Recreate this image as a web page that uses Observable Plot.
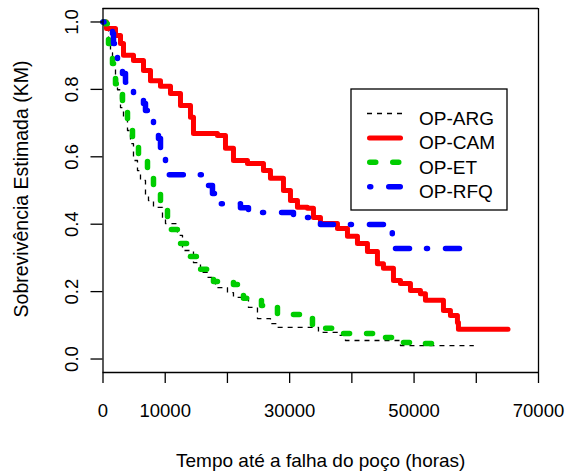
<!DOCTYPE html>
<html><head><meta charset="utf-8">
<script src="https://cdn.jsdelivr.net/npm/d3@7"></script>
<script src="https://cdn.jsdelivr.net/npm/@observablehq/plot@0.6"></script>
<style>body{margin:0;background:#fff} #chart{position:relative;width:568px;height:472px}</style>
</head><body><div id="chart"></div>
<script>
// ---- data ----
const groups = ["OP-ARG", "OP-CAM", "OP-ET", "OP-RFQ"];

const timeARG = [0, 402, 884, 1205, 1527, 2009, 2330, 2812, 3294, 3937, 4419, 4901, 5544, 6026, 6830, 7312, 8115, 9562, 10044, 11972, 12776, 14543, 15668, 16793, 18079, 20007, 20971, 23382, 24828, 26918, 28043, 34632, 37686, 38971, 47811, 59600];
const survARG = [1.0, 0.990, 0.937, 0.909, 0.871, 0.832, 0.799, 0.746, 0.717, 0.678, 0.639, 0.589, 0.559, 0.530, 0.485, 0.470, 0.450, 0.420, 0.402, 0.367, 0.322, 0.286, 0.257, 0.242, 0.212, 0.197, 0.183, 0.153, 0.120, 0.105, 0.094, 0.079, 0.070, 0.055, 0.040, 0.040];

const timeCAM = [0, 560, 2009, 2812, 3294, 4901, 6508, 7633, 9240, 10847, 12454, 14061, 14543, 18400, 19686, 20971, 23221, 25793, 26918, 29007, 30132, 31257, 32865, 33829, 34954, 37686, 39293, 40900, 42507, 44114, 45079, 46686, 47811, 49418, 51025, 51829, 53757, 54721, 55846, 56971, 57132, 65100];
const survCAM = [1.0, 0.981, 0.960, 0.936, 0.901, 0.886, 0.856, 0.826, 0.809, 0.788, 0.752, 0.717, 0.669, 0.663, 0.625, 0.589, 0.580, 0.559, 0.536, 0.500, 0.470, 0.450, 0.447, 0.420, 0.402, 0.387, 0.364, 0.343, 0.319, 0.283, 0.269, 0.233, 0.224, 0.203, 0.194, 0.174, 0.174, 0.144, 0.129, 0.108, 0.088, 0.088];

const timeET = [0, 402, 884, 1527, 2009, 3134, 3937, 4741, 5705, 7151, 8115, 9240, 10365, 11972, 13740, 15668, 17758, 20971, 22578, 25471, 28043, 33668, 36882, 43792, 47006, 50542, 54239, 55000];
const survET = [1.0, 0.995, 0.936, 0.877, 0.817, 0.752, 0.702, 0.642, 0.589, 0.545, 0.494, 0.444, 0.384, 0.343, 0.304, 0.266, 0.230, 0.221, 0.180, 0.159, 0.132, 0.091, 0.076, 0.064, 0.049, 0.046, 0.037, 0.037];

const timeRFQ = [0, 402, 1527, 1687, 2330, 3134, 3616, 4901, 6508, 6830, 8115, 8919, 9240, 10044, 10526, 16500, 17597, 19000, 22096, 23382, 30614, 33347, 34954, 46500, 58800];
const survRFQ = [1.0, 0.995, 0.966, 0.936, 0.886, 0.847, 0.821, 0.791, 0.758, 0.737, 0.699, 0.654, 0.619, 0.583, 0.547, 0.515, 0.491, 0.461, 0.449, 0.435, 0.420, 0.411, 0.399, 0.328, 0.328];

const xTicks = [0, 10000, 20000, 30000, 40000, 50000, 60000, 70000];
const xTickLabels = ["0", "10000", "", "30000", "", "50000", "", "70000"];
const yTicks = [0, 0.2, 0.4, 0.6, 0.8, 1.0];
const yTickLabels = ["0.0", "0.2", "0.4", "0.6", "0.8", "1.0"];
const xTitle = "Tempo até a falha do poço (horas)";
const yTitle = "Sobrevivência Estimada (KM)";

// ---- styles ----
const styles = {
  "OP-ARG": {stroke: "#000000", width: 1.3, dash: "5,5", cap: "butt"},
  "OP-CAM": {stroke: "#ff0000", width: 5, dash: null, cap: "round"},
  "OP-ET":  {stroke: "#00cd00", width: 5.5, dash: "6,17", cap: "round"},
  "OP-RFQ": {stroke: "#0000ff", width: 5.5, dash: "1,18,14,17", cap: "round"}
};

const series = {
  "OP-ARG": [timeARG, survARG],
  "OP-CAM": [timeCAM, survCAM],
  "OP-ET": [timeET, survET],
  "OP-RFQ": [timeRFQ, survRFQ]
};
const rows = groups.flatMap(g => series[g][0].map((t, i) => ({group: g, t, s: series[g][1][i]})));

const font = "'Liberation Sans', Arial, Helvetica, sans-serif";
const fs = 19;
const xDomain = [0, 70000];
const yDomain = [-0.04, 1.04];
const xLabelMap = new Map(xTicks.map((t, i) => [t, xTickLabels[i]]));

const plot = Plot.plot({
  width: 568, height: 472,
  marginLeft: 102.5, marginRight: 30, marginTop: 8, marginBottom: 100,
  style: {fontFamily: font, fontSize: fs + "px", background: "white", color: "black"},
  x: {domain: xDomain},
  y: {domain: yDomain},
  marks: [
    ...groups.map(g => Plot.line(rows.filter(r => r.group === g), {
      x: "t", y: "s", curve: "step-after",
      stroke: styles[g].stroke, strokeWidth: styles[g].width,
      strokeDasharray: styles[g].dash, strokeLinecap: styles[g].cap, strokeLinejoin: "round"
    })),
    // plot box
    Plot.ruleX(xDomain, {stroke: "black", strokeWidth: 1.3}),
    Plot.ruleY(yDomain, {stroke: "black", strokeWidth: 1.3}),
    Plot.axisX(xTicks, {tickSize: 11, tickPadding: 20, tickFormat: d => xLabelMap.get(d), label: null, strokeWidth: 1.3, fontSize: 18.5}),
    Plot.axisY(yTicks, {tickSize: 12, tickFormat: () => "", label: null, strokeWidth: 1.3}),
    Plot.text(yTicks, {y: d => d, text: (d, i) => yTickLabels[i], frameAnchor: "left", dx: -30.5, rotate: -90, textAnchor: "middle", lineAnchor: "middle", fontSize: 18.5}),
    Plot.text([xTitle], {text: d => d, frameAnchor: "bottom", dy: 88, textAnchor: "middle", lineAnchor: "middle", fontSize: fs}),
    Plot.text([yTitle], {text: d => d, frameAnchor: "left", dx: -81.5, dy: -1.5, rotate: -90, textAnchor: "middle", lineAnchor: "middle", fontSize: 19.5})
  ]
});

// ---- legend (inside the plot, top right) ----
const svg = d3.select(plot);
const lg = svg.append("g").attr("font-family", font).attr("font-size", fs).attr("text-anchor", "start");
lg.append("rect").attr("x", 351).attr("y", 89).attr("width", 156).attr("height", 121)
  .attr("fill", "none").attr("stroke", "black").attr("stroke-width", 1.3);
groups.forEach((g, i) => {
  const y = 113.5 + i * 24.4;
  const st = styles[g];
  const pad = st.cap === "round" ? st.width / 2 : 0;
  lg.append("line").attr("x1", 367 + pad).attr("x2", 403 - pad).attr("y1", y).attr("y2", y)
    .attr("stroke", st.stroke).attr("stroke-width", st.width)
    .attr("stroke-dasharray", st.dash).attr("stroke-linecap", st.cap);
  lg.append("text").attr("x", 419).attr("y", y + 4.5).attr("dy", "0.36em")
    .attr("text-anchor", "start").attr("fill", "black").text(g);
});

document.getElementById("chart").appendChild(plot);
</script>
</body></html>
